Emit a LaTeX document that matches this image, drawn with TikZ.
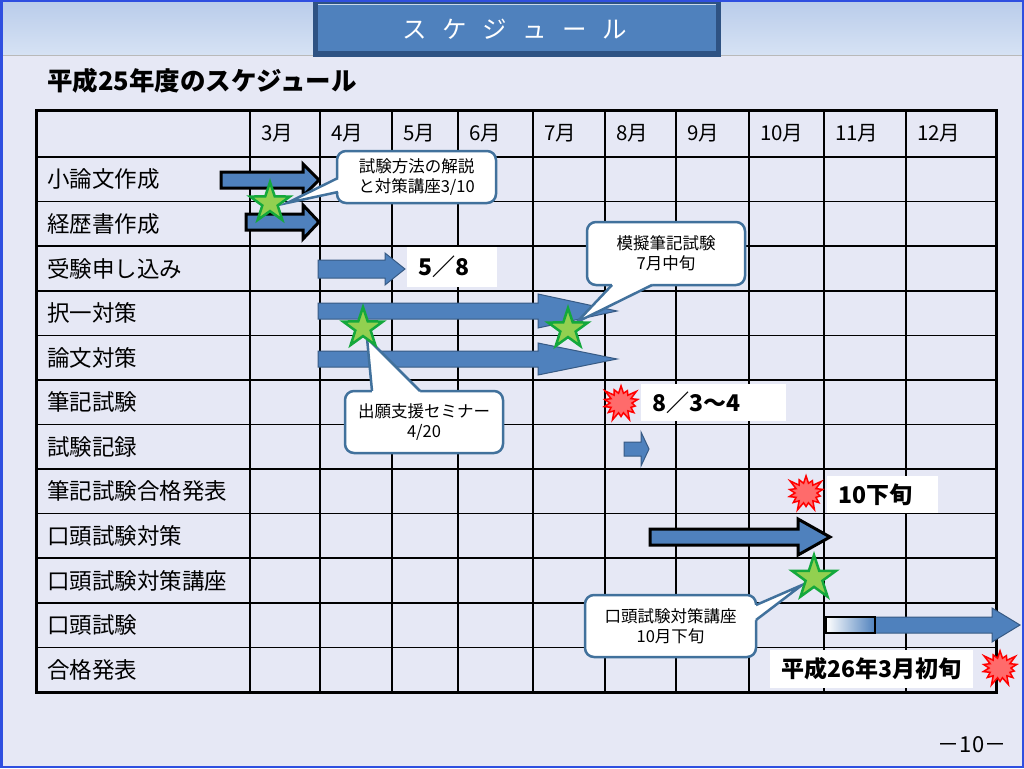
\documentclass[tikz,border=0pt]{standalone}
\usepackage{fontspec}
\setmainfont{Noto Sans CJK JP}
\usetikzlibrary{shapes.geometric,shapes.symbols}
\definecolor{bg}{HTML}{E6E8F5}
\definecolor{hb1}{HTML}{B9CCEA}
\definecolor{hb2}{HTML}{D6E2F4}
\definecolor{tdark}{HTML}{2E5283}
\definecolor{tblue}{HTML}{4F81BD}
\definecolor{ablue}{HTML}{4F81BD}
\definecolor{cblue}{HTML}{41719C}
\definecolor{sgreen}{HTML}{92D050}
\definecolor{dgreen}{HTML}{14A83C}
\definecolor{bred}{HTML}{FF6B6B}
\definecolor{frameblue}{HTML}{2F4FE0}
\newcommand\barrow[7]{%
  \draw[#1] (#2,#4-#5) -- (#7,#4-#5) -- (#7,#4-#6) -- (#3,#4) -- (#7,#4+#6) -- (#7,#4+#5) -- (#2,#4+#5) -- cycle;}
\tikzset{
  arr/.style={fill=ablue, draw=ablue!70!black, line width=1pt, line join=miter},
  arrk/.style={fill=ablue, draw=black, line width=3pt, line join=miter},
  gridline/.style={line width=1.6pt, black},
  rowlab/.style={anchor=west, font=\fontsize{22.5}{26}\selectfont, inner sep=0pt},
  monlab/.style={anchor=west, font=\fontsize{20.5}{24}\selectfont, inner sep=0pt},
  datebox/.style={fill=white, anchor=north west, inner xsep=11pt, inner ysep=0pt, font=\bfseries\fontsize{23}{27}\selectfont, align=left},
  callbox/.style={draw=cblue, line width=2.5pt, fill=white, rounded corners=9pt, align=center, font=\fontsize{16.5}{20}\selectfont, inner sep=0pt},
  calline/.style={draw=cblue, line width=2.5pt, line join=miter},
  greenstar/.style={star, star points=5, star point ratio=2.6, minimum size=42pt, inner sep=0pt, fill=sgreen, draw=dgreen, line width=2.5pt},
  boom/.style={starburst, starburst points=14, starburst point height=10pt, minimum width=42pt, minimum height=40pt, inner sep=0pt, fill=bred, draw=red, line width=1.5pt}
}
\begin{document}
\begin{tikzpicture}[x=1pt,y=-1pt]
\useasboundingbox (0,0) rectangle (1024,768);
% background
\fill[bg] (0,0) rectangle (1024,768);
% header band
\shade[top color=hb1, bottom color=hb2] (0,0) rectangle (1024,55);
\draw[line width=1pt, color=gray!55] (0,55.5) -- (1024,55.5);
\fill[tdark] (313,0) rectangle (721,57);
\fill[tblue] (318,5) rectangle (716,51);
\draw[white!70!tblue, line width=1pt] (318,5) -- (716,5);
\node[font=\fontsize{24.5}{28}\selectfont, text=white] (title) at (515,29) {ス\hspace{15.5pt}ケ\hspace{15.5pt}ジ\hspace{15.5pt}ュ\hspace{15.5pt}ー\hspace{15.5pt}ル};
\node[anchor=west, font=\bfseries\fontsize{25.5}{29}\selectfont, inner sep=0pt] (sub) at (47,81) {平成25年度のスケジュール};
% table grid
\foreach \x in {250,320,392,458,533,605,676,749,824,906}
  \draw[gridline] (\x,110) -- (\x,692);
\draw[gridline] (36,157) -- (996,157);
\foreach \k in {1,...,11}
  \draw[gridline] (36,157+44.58*\k) -- (996,157+44.58*\k);
\draw[line width=3pt, black] (36,110) rectangle (996,692);
% month headers
\foreach \x/\m in {250/3月,320/4月,392/5月,458/6月,533/7月,605/8月,676/9月,749/10月,824/11月,906/12月}
  \node[monlab] (m\x) at (\x+11,133.5) {\m};
% row labels
\foreach \t [count=\k] in {小論文作成,経歴書作成,受験申し込み,択一対策,論文対策,筆記試験,試験記録,筆記試験合格発表,口頭試験対策,口頭試験対策講座,口頭試験,合格発表}
  \node[rowlab] (r\k) at (47,157+44.58*\k-22.29) {\t};
% block arrows
\barrow{arrk}{221}{319}{180}{8}{16}{303}
\barrow{arrk}{246}{319}{222}{8}{17}{303}
\barrow{arr}{318}{405}{269}{9}{16}{385}
\barrow{arr}{318}{617}{311}{8}{17}{538}
\barrow{arr}{318}{617}{359}{8}{16}{538}
\barrow{arr}{624}{649}{449}{7}{17}{641}
\barrow{arrk}{650}{830}{537}{8}{18}{798}
\barrow{arr}{874}{1020}{625}{8}{17}{992}
\shade[left color=white, right color=ablue] (826,617) rectangle (875,633);
\draw[black, line width=2.2pt] (826,617) rectangle (875,633);
% date boxes
\node[datebox, text width=68pt, minimum height=40pt] (d1) at (407,247) {5／8};
\node[datebox, text width=123pt, minimum height=37pt] (d2) at (641,384) {8／3～4};
\node[datebox, text width=89pt, minimum height=37pt] (d3) at (827,476) {10下旬};
\node[datebox, text width=181pt, minimum height=38pt] (d4) at (770,650) {平成26年3月初旬};
% explosions
\node[boom] (e1) at (621,403) {};
\node[boom] (e2) at (806,493) {};
\node[boom] (e3) at (1000,668) {};
% callouts
\node[callbox, minimum width=159pt, minimum height=52pt] (c1) at (416.5,177) {試験方法の解説\\と対策講座3/10};
\fill[white] (343,178) -- (338,178) -- (287,203) -- (338,192) -- (343,192) -- cycle;
\draw[calline] (338,178) -- (287,203) -- (338,192);
\node[callbox, minimum width=158pt, minimum height=63pt] (c2) at (666,253.5) {模擬筆記試験\\7月中旬};
\fill[white] (612,280) -- (612,285) -- (577,322) -- (652,285) -- (652,280) -- cycle;
\draw[calline] (612,285) -- (577,322) -- (652,285);
\node[callbox, minimum width=158pt, minimum height=62pt] (c3) at (424,422) {出願支援セミナー\\4/20};
\fill[white] (372,396) -- (372,391) -- (367,338) -- (420,391) -- (420,396) -- cycle;
\draw[calline] (372,391) -- (367,338) -- (420,391);
\node[callbox, minimum width=171pt, minimum height=62pt] (c4) at (670.5,626) {口頭試験対策講座\\10月下旬};
\fill[white] (751,605) -- (756,605) -- (802,585) -- (756,620) -- (751,620) -- cycle;
\draw[calline] (756,605) -- (802,585) -- (756,620);
% stars
\node[greenstar] (s1) at (270,203) {};
\node[greenstar] (s2) at (363,328) {};
\node[greenstar] (s3) at (568,329) {};
\node[greenstar, minimum size=46pt] (s4) at (814,578) {};
% page number
\node[font=\fontsize{22}{26}\selectfont] (pg) at (972,745) {－10－};
% frame
\draw[frameblue, line width=2.5pt] (1.25,1.25) rectangle (1022.75,766.75);
\end{tikzpicture}
\end{document}
